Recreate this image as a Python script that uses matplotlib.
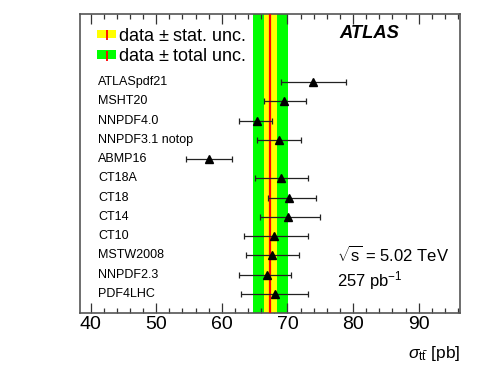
import matplotlib
matplotlib.use('Agg')
import matplotlib.pyplot as plt
from matplotlib.patches import Patch
from matplotlib.lines import Line2D
from matplotlib.legend_handler import HandlerTuple

plt.rcParams['font.family'] = ['Liberation Sans', 'DejaVu Sans']
plt.rcParams['mathtext.fontset'] = 'custom'
plt.rcParams['mathtext.rm'] = 'Liberation Sans'
plt.rcParams['mathtext.it'] = 'Liberation Sans:italic'
plt.rcParams['mathtext.bf'] = 'Liberation Sans:bold'

# PDF sets (top to bottom) and predicted cross sections [pb]
pdfs = ['ATLASpdf21', 'MSHT20', 'NNPDF4.0', 'NNPDF3.1 notop', 'ABMP16', 'CT18A',
        'CT18', 'CT14', 'CT10', 'MSTW2008', 'NNPDF2.3', 'PDF4LHC']
central = [73.9, 69.5, 65.4, 68.7, 58.1, 69.1, 70.2, 70.1, 68.0, 67.7, 66.9, 68.1]
low = [68.95, 66.4, 62.6, 65.3, 54.6, 65.1, 67.0, 65.8, 63.4, 63.7, 62.7, 62.9]
high = [78.9, 72.8, 67.7, 72.0, 61.5, 73.2, 74.3, 75.0, 73.2, 71.8, 70.6, 73.2]

# measurement
meas = 67.4
stat_lo, stat_hi = 66.5, 68.4
tot_lo, tot_hi = 64.7, 70.1

n = len(pdfs)
ypos = [n - i for i in range(n)]
xerr = [[c - l for c, l in zip(central, low)], [h - c for c, h in zip(central, high)]]

fig = plt.figure(figsize=(4.8, 3.77), dpi=100)
ax = fig.add_axes([80/480, 1 - 313/377, 380/480, 299/377])

ax.axvspan(tot_lo, tot_hi, color=(0, 1, 0), lw=0, zorder=1)
ax.axvspan(stat_lo, stat_hi, color=(1, 1, 0), lw=0, zorder=2)
ax.axvline(meas, color='red', lw=1.6, zorder=3)

ax.errorbar(central, ypos, xerr=xerr, fmt='^', color='black', ecolor='#222222',
            elinewidth=0.9, capsize=2.5, capthick=0.9, markersize=6, zorder=5)

for y, name in zip(ypos, pdfs):
    ax.text(41.2, y, name, fontsize=9, va='center', ha='left', zorder=6)

h_stat = (Patch(facecolor=(1, 1, 0), edgecolor='none'),
          Line2D([], [], color='red', marker='|', linestyle='none', markersize=7, markeredgewidth=1.3))
h_tot = (Patch(facecolor=(0, 1, 0), edgecolor='none'),
         Line2D([], [], color='red', marker='|', linestyle='none', markersize=7, markeredgewidth=1.3))
ax.legend([h_stat, h_tot], [r'data $\pm$ stat. unc.', r'data $\pm$ total unc.'],
          handler_map={tuple: HandlerTuple(ndivide=1, pad=0)},
          loc='upper left', bbox_to_anchor=(0.008, 1.0), frameon=False, fontsize=13,
          handlelength=1.1, handleheight=0.35, handletextpad=0.1, labelspacing=0.2,
          borderaxespad=0.35)

ax.text(77.9, 14.55, 'ATLAS', fontsize=13.2, fontweight='bold', fontstyle='italic',
        va='center', ha='left')
ax.text(77.6, 3.0, r'$\sqrt{\mathrm{s}}$ = 5.02 TeV', fontsize=12, va='center', ha='left')
ax.text(77.6, 1.68, r'257 pb$^{-1}$', fontsize=12, va='center', ha='left')

ax.set_xlim(38.4, 96.3)
ax.set_ylim(0, 15.55)
ax.set_yticks([])
ax.set_xticks([40, 50, 60, 70, 80, 90])
ax.xaxis.set_minor_locator(matplotlib.ticker.MultipleLocator(2))
ax.tick_params(axis='x', which='both', direction='in', top=True, bottom=True,
               labelsize=14, pad=2, color='#333333')
ax.tick_params(axis='x', which='major', length=7, width=0.9)
ax.tick_params(axis='x', which='minor', length=3.5, width=0.9)
for s in ax.spines.values():
    s.set_color('#555555')
    s.set_linewidth(1.2)

ax.set_xlabel(r'$\sigma_{\mathrm{t\bar{t}}}$ [pb]', fontsize=12.5, loc='right', labelpad=8)

fig.savefig('out.png', dpi=100)
